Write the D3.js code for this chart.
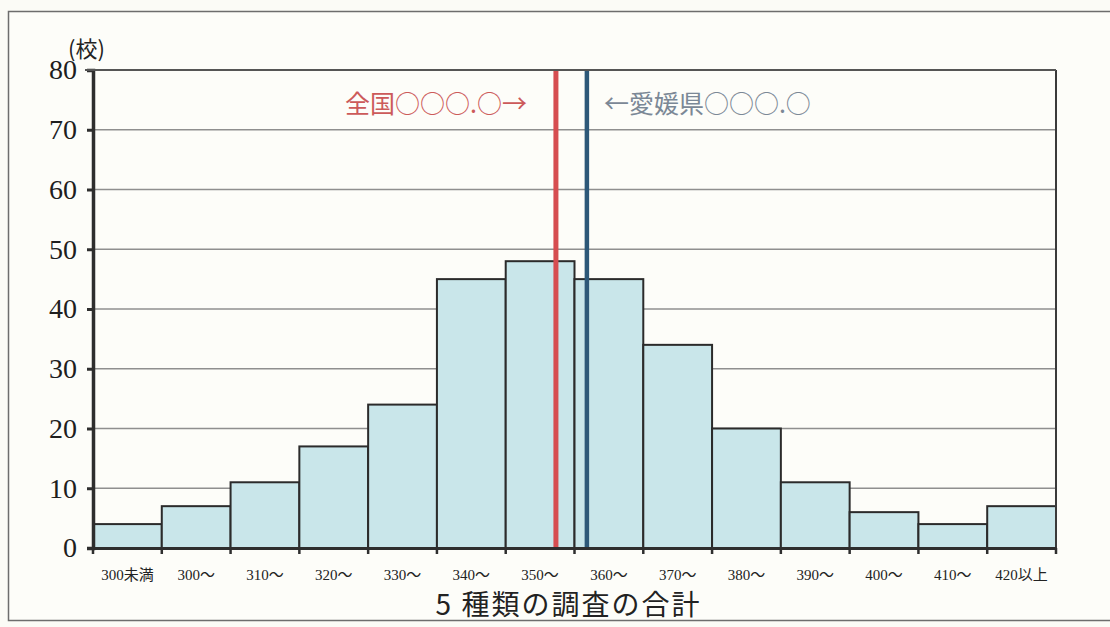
<!DOCTYPE html>
<html><head><meta charset="utf-8">
<script src="https://cdn.jsdelivr.net/npm/d3@7/dist/d3.min.js"></script>
<style>
html,body{margin:0;padding:0;background:#fbfbf6;}
svg{display:block;}
</style></head>
<body>
<svg id="chart" width="1110" height="627"></svg>
<script>
const categories = ["300未満","300～","310～","320～","330～","340～","350～","360～","370～","380～","390～","400～","410～","420以上"];
const counts = [4, 7, 11, 17, 24, 45, 48, 45, 34, 20, 11, 6, 4, 7];
const yTicks = [0,10,20,30,40,50,60,70,80];
const nationalMean = 357.3;
const ehimeMean = 361.8;
const nationalLabel = "全国○○○.○→";
const ehimeLabel = "←愛媛県○○○.○";
const yUnit = "(校)";
const xTitle = "5 種類の調査の合計";

const svg = d3.select("#chart");
const W = 1110, H = 627;
const m = {left:93, right:54, top:70, bottom:79};
const iw = W - m.left - m.right, ih = H - m.top - m.bottom;

// outer frame
svg.append("rect").attr("x",8.5).attr("y",11.5).attr("width",1110).attr("height",609)
  .attr("fill","#fdfdf9").attr("stroke","#6d6d6d").attr("stroke-width",1.5);

const g = svg.append("g").attr("transform",`translate(${m.left},${m.top})`);

const x = d3.scaleLinear().domain([290,430]).range([0,iw]);
const xb = d3.scaleBand().domain(categories).range([0,iw]).padding(0);
const y = d3.scaleLinear().domain([0,80]).range([ih,0]);

// gridlines
g.append("g").selectAll("line").data(yTicks.filter(d=>d>0)).join("line")
  .attr("x1",0).attr("x2",iw).attr("y1",d=>y(d)).attr("y2",d=>y(d))
  .attr("stroke","#8f8f8f").attr("stroke-width",1.6);

// bars
g.append("g").selectAll("rect").data(counts).join("rect")
  .attr("x",(d,i)=>xb(categories[i]))
  .attr("width",xb.bandwidth())
  .attr("y",d=>y(d)).attr("height",d=>ih-y(d))
  .attr("fill","#c9e6ea").attr("stroke","#2b2b2b").attr("stroke-width",2);

// right border
g.append("line").attr("x1",iw).attr("x2",iw).attr("y1",0).attr("y2",ih)
  .attr("stroke","#3a3a3a").attr("stroke-width",2);

// mean lines
g.append("line").attr("x1",x(nationalMean)).attr("x2",x(nationalMean)).attr("y1",0).attr("y2",ih)
  .attr("stroke","#d64d50").attr("stroke-width",5);
g.append("line").attr("x1",x(ehimeMean)).attr("x2",x(ehimeMean)).attr("y1",0).attr("y2",ih)
  .attr("stroke","#2d5878").attr("stroke-width",4.5);

// y axis
const ya = g.append("g").call(d3.axisLeft(y).tickValues(yTicks).tickSize(6).tickPadding(10));
ya.select(".domain").attr("stroke","#2e2e2e").attr("stroke-width",3.5);
ya.selectAll(".tick line").attr("stroke","#2e2e2e").attr("stroke-width",3);
ya.selectAll(".tick text").attr("font-family","'Liberation Serif', serif").attr("font-size",28).attr("fill","#1e1e1e");

// x axis
const xa = g.append("g").attr("transform",`translate(0,${ih})`)
  .call(d3.axisBottom(xb).tickSize(0).tickPadding(21));
xa.select(".domain").attr("stroke","#2e2e2e").attr("stroke-width",3);
xa.selectAll(".tick text").attr("font-family","'Liberation Serif','Noto Sans CJK JP', serif")
  .attr("font-size",15).attr("fill","#222");
g.append("g").selectAll("line").data(d3.range(categories.length+1)).join("line")
  .attr("x1",i=>i*xb.bandwidth()).attr("x2",i=>i*xb.bandwidth())
  .attr("y1",ih).attr("y2",ih+6).attr("stroke","#2e2e2e").attr("stroke-width",2.5);

// top border of plot
g.append("line").attr("x1",-8).attr("x2",iw).attr("y1",0).attr("y2",0)
  .attr("stroke","#555").attr("stroke-width",2);

// labels
svg.append("text").attr("x",68).attr("y",57).text(yUnit)
  .attr("font-family","'Noto Sans CJK JP', sans-serif").attr("font-size",22).attr("fill","#222");
g.append("text").attr("x",x(nationalMean)-29).attr("y",43).attr("text-anchor","end").text(nationalLabel)
  .attr("font-family","'Noto Sans CJK JP', sans-serif").attr("font-size",25).attr("fill","#cc5a5a");
g.append("text").attr("x",x(ehimeMean)+17).attr("y",43).attr("text-anchor","start").text(ehimeLabel)
  .attr("font-family","'Noto Sans CJK JP', sans-serif").attr("font-size",25).attr("fill","#7b8896");
svg.append("text").attr("x",m.left+iw/2-6).attr("y",615).attr("text-anchor","middle").text(xTitle)
  .attr("font-family","'Noto Sans CJK JP', sans-serif").attr("font-size",28).attr("letter-spacing",2).attr("fill","#222");
</script>
</body></html>
